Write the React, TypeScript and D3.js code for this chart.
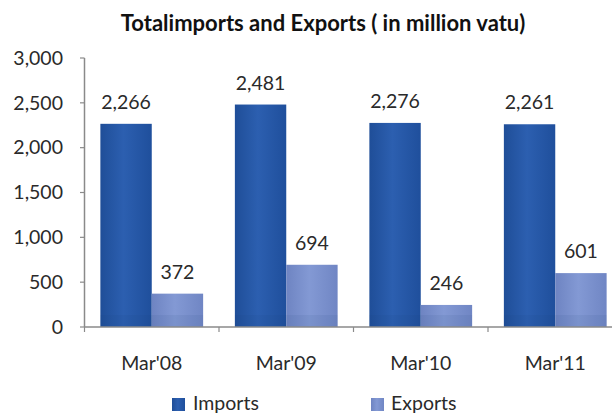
import React from "react";
import * as d3 from "d3";

const categories = ["Mar'08", "Mar'09", "Mar'10", "Mar'11"];
const imports = [2266, 2481, 2276, 2261];
const exportsV = [372, 694, 246, 601];
const yTicks = [0, 500, 1000, 1500, 2000, 2500, 3000];
const title = "Totalimports and Exports ( in million vatu)";
const seriesNames = ["Imports", "Exports"];

const W = 612;
const H = 416;
const FONT = "Lato, 'Open Sans', sans-serif";

export default function App() {
  const x = d3.scaleBand<string>().domain(categories).range([84.5, 622.5]).paddingInner(0).paddingOuter(0);
  const y = d3.scaleLinear().domain([0, 3000]).range([327, 58]);
  const fmt = d3.format(",");
  const bw = x.bandwidth();
  const gapL = bw * 0.118;
  const barW = (bw - 2 * gapL) / 2;
  const fs = 19.5;

  return (
    <svg width={W} height={H} style={{ position: "absolute", left: 0, top: 0, background: "#fff" }} fontFamily={FONT}>
      <defs>
        <linearGradient id="gImp" x1="0" x2="1" y1="0" y2="0">
          <stop offset="0" stopColor="#1f4e98" />
          <stop offset="0.45" stopColor="#2c5fb0" />
          <stop offset="1" stopColor="#1f4f9c" />
        </linearGradient>
        <linearGradient id="gExp" x1="0" x2="1" y1="0" y2="0">
          <stop offset="0" stopColor="#6e84c2" />
          <stop offset="0.45" stopColor="#8399d4" />
          <stop offset="1" stopColor="#7086c4" />
        </linearGradient>
      </defs>
      <text x={323} y={31} textAnchor="middle" fontWeight="bold" fontSize={22} fill="#111">
        {title}
      </text>
      {/* y axis */}
      <line x1={84.5} x2={84.5} y1={y(3000)} y2={y(0)} stroke="#8a8a8a" strokeWidth={1.5} />
      {yTicks.map((t) => (
        <g key={t}>
          <line x1={80} x2={84.5} y1={y(t)} y2={y(t)} stroke="#8a8a8a" strokeWidth={1.2} />
          <text x={63} y={y(t)} dy="0.35em" textAnchor="end" fontSize={fs} fill="#2a2a2a">
            {fmt(t)}
          </text>
        </g>
      ))}
      {/* bars */}
      {categories.map((c, i) => {
        const x0 = (x(c) as number) + gapL;
        return (
          <g key={c}>
            <rect x={x0} y={y(imports[i])} width={barW} height={y(0) - y(imports[i])} fill="url(#gImp)" />
            <rect x={x0 + barW} y={y(exportsV[i])} width={barW} height={y(0) - y(exportsV[i])} fill="url(#gExp)" />
            <rect x={x0} y={y(0) - 12} width={barW * 2} height={12} fill="#1a3a70" opacity={0.08} />
            <text x={x0 + barW / 2} y={y(imports[i]) - 15} textAnchor="middle" fontSize={fs} fill="#2a2a2a">
              {fmt(imports[i])}
            </text>
            <text x={x0 + barW * 1.5} y={y(exportsV[i]) - 15} textAnchor="middle" fontSize={fs} fill="#2a2a2a">
              {fmt(exportsV[i])}
            </text>
            <text x={(x(c) as number) + bw / 2} y={370} textAnchor="middle" fontSize={fs} fill="#2a2a2a">
              {c}
            </text>
          </g>
        );
      })}
      {/* x axis */}
      <line x1={84.5} x2={W} y1={y(0)} y2={y(0)} stroke="#8a8a8a" strokeWidth={1.5} />
      {categories.map((c, i) => (
        <line key={"t" + i} x1={(x(c) as number)} x2={(x(c) as number)} y1={y(0)} y2={y(0) + 5} stroke="#8a8a8a" strokeWidth={1.2} />
      ))}
      {/* legend */}
      <rect x={172} y={398} width={13} height={13} fill="url(#gImp)" />
      <text x={193} y={410} fontSize={fs} fill="#2a2a2a">{seriesNames[0]}</text>
      <rect x={371} y={398} width={13} height={13} fill="url(#gExp)" />
      <text x={391} y={410} fontSize={fs} fill="#2a2a2a">{seriesNames[1]}</text>
    </svg>
  );
}
